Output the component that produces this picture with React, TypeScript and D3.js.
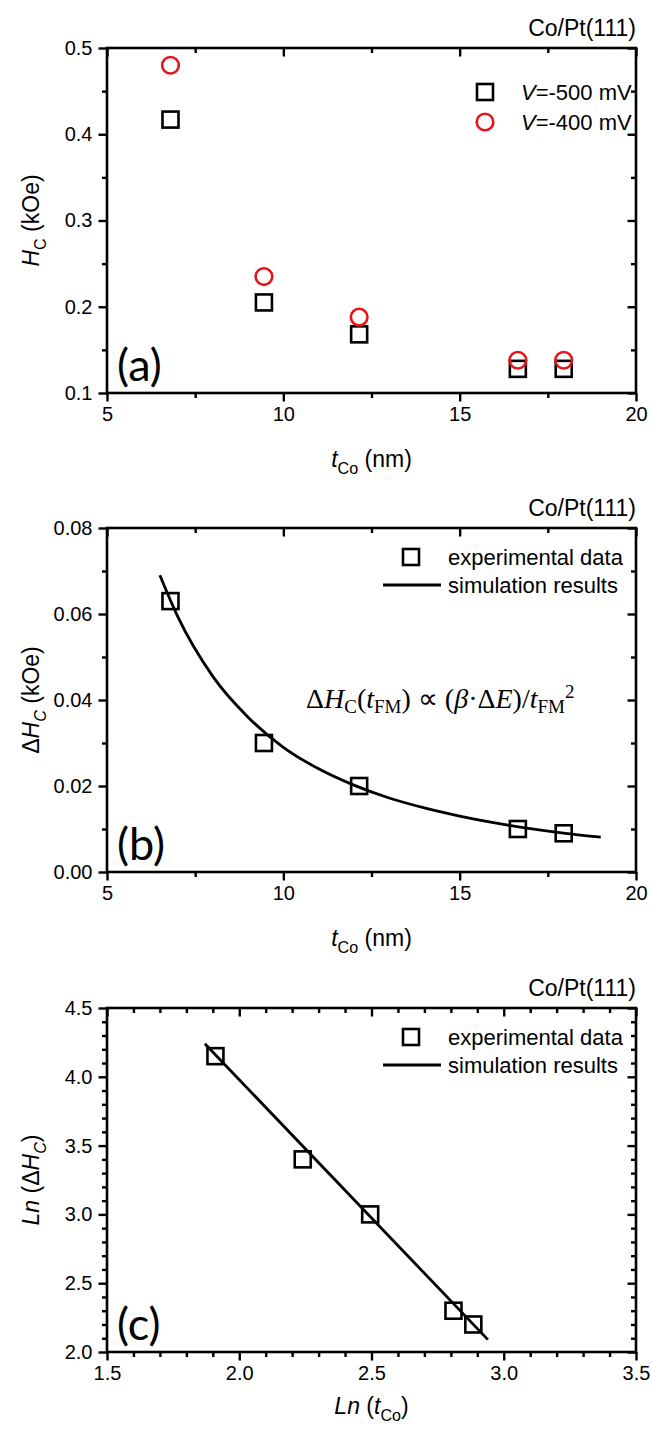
import { useEffect, useRef } from "react";
import * as d3 from "d3";

// panel (a): coercivity vs Co thickness
const tCo = [6.8, 9.45, 12.15, 16.65, 17.95];
const hc500 = [0.417, 0.205, 0.168, 0.128, 0.128];
const hc400 = [0.48, 0.235, 0.188, 0.138, 0.138];

// panel (b): difference, with simulation curve
const dHc = [0.063, 0.03, 0.02, 0.01, 0.009];
const simT = [6.5, 7, 8, 9, 10, 11, 12, 13, 14, 15, 16, 17, 18, 19];
const simDHc = [0.069, 0.0595, 0.0455, 0.036, 0.029, 0.024, 0.0202, 0.0172, 0.0149, 0.013, 0.0114, 0.0101, 0.009, 0.0081];

// panel (c): log-log
const lnT = [1.91, 2.24, 2.495, 2.81, 2.885];
const lnDHc = [4.15, 3.4, 3.0, 2.3, 2.2];
const fitLnT = [1.87, 2.94];
const fitLnDHc = [4.24, 2.09];

const xTicksA = [5, 10, 15, 20];
const yTicksA = [0.1, 0.2, 0.3, 0.4, 0.5];
const yTicksB = [0, 0.02, 0.04, 0.06, 0.08];
const xTicksC = [1.5, 2.0, 2.5, 3.0, 3.5];
const yTicksC = [2.0, 2.5, 3.0, 3.5, 4.0, 4.5];

const W = 652;
const H = 1433;
const LEFT = 107;
const RIGHT = 636;
const SANS = "'Liberation Sans', Arial, sans-serif";
const SERIF = "'Liberation Serif', 'Times New Roman', serif";
const RED = "#e8141b";
const TICK_FS = 20;
const TITLE_FS = 23;
const LEG_FS = 22;

type Part = { t: string; italic?: boolean; sub?: boolean; sup?: boolean };

// rich text with sub/superscripts as tspans
function addRich(sel: any, parts: Part[], size: number) {
  parts.forEach((p, i) => {
    const prev = i > 0 ? parts[i - 1] : null;
    const prevShift = prev ? (prev.sub ? 0.3 : prev.sup ? -0.4 : 0) : 0;
    const shift = p.sub ? 0.3 : p.sup ? -0.4 : 0;
    sel
      .append("tspan")
      .attr("dy", (shift - prevShift) * size)
      .attr("font-style", p.italic ? "italic" : "normal")
      .attr("font-size", p.sub || p.sup ? size * 0.7 : size)
      .text(p.t);
  });
}

function drawFrame(g: any, x: any, y: any, cfg: any) {
  const w = RIGHT - LEFT;
  const h = cfg.bottom - cfg.top;
  const major = 8.5;
  const minor = 5;
  const styleAxis = (a: any) => {
    a.select(".domain").remove();
    a.selectAll("line").attr("stroke", "#000").attr("stroke-width", 2.4);
    a.selectAll("text")
      .attr("font-family", SANS)
      .attr("font-size", TICK_FS)
      .attr("fill", "#000");
  };
  const blank = () => "";
  // bottom, outward
  g.append("g").attr("transform", `translate(0,${h})`)
    .call(d3.axisBottom(x).tickValues(cfg.xTicks).tickSize(major).tickPadding(5.5).tickFormat(cfg.xFmt))
    .call(styleAxis);
  g.append("g").attr("transform", `translate(0,${h})`)
    .call(d3.axisBottom(x).tickValues(cfg.xMinor).tickSize(minor).tickFormat(blank))
    .call(styleAxis);
  // top, inward
  g.append("g")
    .call(d3.axisBottom(x).tickValues(cfg.xTicks).tickSize(major).tickFormat(blank))
    .call(styleAxis);
  g.append("g")
    .call(d3.axisBottom(x).tickValues(cfg.xMinor).tickSize(minor).tickFormat(blank))
    .call(styleAxis);
  // left, outward
  g.append("g")
    .call(d3.axisLeft(y).tickValues(cfg.yTicks).tickSize(major).tickPadding(6).tickFormat(cfg.yFmt))
    .call(styleAxis);
  g.append("g")
    .call(d3.axisLeft(y).tickValues(cfg.yMinor).tickSize(minor).tickFormat(blank))
    .call(styleAxis);
  // right, inward
  g.append("g").attr("transform", `translate(${w},0)`)
    .call(d3.axisLeft(y).tickValues(cfg.yTicks).tickSize(major).tickFormat(blank))
    .call(styleAxis);
  g.append("g").attr("transform", `translate(${w},0)`)
    .call(d3.axisLeft(y).tickValues(cfg.yMinor).tickSize(minor).tickFormat(blank))
    .call(styleAxis);
  g.append("rect")
    .attr("width", w).attr("height", h)
    .attr("fill", "none").attr("stroke", "#000").attr("stroke-width", 2.6);

  // corner label
  g.append("text")
    .attr("x", w).attr("y", -12)
    .attr("text-anchor", "end")
    .attr("font-family", SANS).attr("font-size", 23)
    .text("Co/Pt(111)");
  // panel letter
  g.append("text")
    .attr("x", 10).attr("y", h - 12)
    .attr("font-family", "Lato, 'Open Sans', sans-serif").attr("font-size", 45)
    .text(cfg.letter);
  // x title
  const xt = g.append("text")
    .attr("x", w / 2).attr("y", h + cfg.xTitleDy)
    .attr("text-anchor", "middle")
    .attr("font-family", SANS).attr("font-size", TITLE_FS);
  addRich(xt, cfg.xTitle, TITLE_FS);
  // y title
  const yt = g.append("text")
    .attr("transform", `translate(${-68},${h / 2}) rotate(-90)`)
    .attr("text-anchor", "middle")
    .attr("font-family", SANS).attr("font-size", TITLE_FS);
  addRich(yt, cfg.yTitle, TITLE_FS);
}

function square(g: any, cx: number, cy: number) {
  g.append("rect")
    .attr("x", cx - 8).attr("y", cy - 8)
    .attr("width", 16).attr("height", 16)
    .attr("fill", "none").attr("stroke", "#000").attr("stroke-width", 2.6);
}

function circle(g: any, cx: number, cy: number) {
  g.append("circle")
    .attr("cx", cx).attr("cy", cy).attr("r", 8.3)
    .attr("fill", "none").attr("stroke", RED).attr("stroke-width", 2.6);
}

function legendText(g: any, x: number, y: number, parts: Part[]) {
  const t = g.append("text")
    .attr("x", x).attr("y", y + 8)
    .attr("font-family", SANS).attr("font-size", LEG_FS);
  addRich(t, parts, LEG_FS);
}

const App = () => {
  const svgRef = useRef<SVGSVGElement>(null);

  useEffect(() => {
    const svg = d3.select(svgRef.current);
    svg.selectAll("*").remove();
    const w = RIGHT - LEFT;

    const xTitleT: Part[] = [{ t: "t", italic: true }, { t: "Co", sub: true }, { t: " (nm)" }];
    const minorX = [7.5, 12.5, 17.5];

    // ---- (a)
    {
      const top = 48, bottom = 393;
      const g = svg.append("g").attr("transform", `translate(${LEFT},${top})`);
      const x = d3.scaleLinear().domain([5, 20]).range([0, w]);
      const y = d3.scaleLinear().domain([0.1, 0.5]).range([bottom - top, 0]);
      drawFrame(g, x, y, {
        top, bottom, letter: "(a)", xTicks: xTicksA, xMinor: minorX,
        yTicks: yTicksA, yMinor: [0.15, 0.25, 0.35, 0.45],
        xFmt: d3.format("d"), yFmt: d3.format(".1f"), xTitleDy: 74,
        xTitle: xTitleT,
        yTitle: [{ t: "H", italic: true }, { t: "C", sub: true }, { t: " (kOe)" }],
      });
      tCo.forEach((t, i) => square(g, x(t), y(hc500[i])));
      tCo.forEach((t, i) => circle(g, x(t), y(hc400[i])));
      square(g, 378, 44);
      circle(g, 378, 74);
      legendText(g, 414, 44, [{ t: "V", italic: true }, { t: "=-500 mV" }]);
      legendText(g, 414, 74, [{ t: "V", italic: true }, { t: "=-400 mV" }]);
    }

    // ---- (b)
    {
      const top = 528, bottom = 872;
      const g = svg.append("g").attr("transform", `translate(${LEFT},${top})`);
      const x = d3.scaleLinear().domain([5, 20]).range([0, w]);
      const y = d3.scaleLinear().domain([0, 0.08]).range([bottom - top, 0]);
      drawFrame(g, x, y, {
        top, bottom, letter: "(b)", xTicks: xTicksA, xMinor: minorX,
        yTicks: yTicksB, yMinor: [0.01, 0.03, 0.05, 0.07],
        xFmt: d3.format("d"), yFmt: d3.format(".2f"), xTitleDy: 74,
        xTitle: xTitleT,
        yTitle: [{ t: "Δ" }, { t: "H", italic: true }, { t: "C", sub: true, italic: true }, { t: " (kOe)" }],
      });
      const line = d3.line<number>()
        .x((d) => x(d))
        .y((_, i) => y(simDHc[i]))
        .curve(d3.curveMonotoneX);
      g.append("path").datum(simT).attr("d", line)
        .attr("fill", "none").attr("stroke", "#000").attr("stroke-width", 2.8);
      tCo.forEach((t, i) => square(g, x(t), y(dHc[i])));
      square(g, 304, 29);
      g.append("line").attr("x1", 276).attr("x2", 334).attr("y1", 57).attr("y2", 57)
        .attr("stroke", "#000").attr("stroke-width", 2.8);
      legendText(g, 341, 29, [{ t: "experimental data" }]);
      legendText(g, 341, 57, [{ t: "simulation results" }]);
      // formula
      const f = g.append("text")
        .attr("x", 199).attr("y", 180)
        .attr("font-family", SERIF).attr("font-size", 28);
      f.append("tspan").text("Δ");
      f.append("tspan").attr("font-style", "italic").text("H");
      f.append("tspan").attr("font-size", 19).attr("dy", 5).text("C");
      f.append("tspan").attr("dy", -5).text("(");
      f.append("tspan").attr("font-style", "italic").text("t");
      f.append("tspan").attr("font-size", 19).attr("dy", 5).text("FM");
      f.append("tspan").attr("dy", -5).text(") ∝ (");
      f.append("tspan").attr("font-style", "italic").text("β");
      f.append("tspan").text("·Δ");
      f.append("tspan").attr("font-style", "italic").text("E");
      f.append("tspan").text(")/");
      f.append("tspan").attr("font-style", "italic").text("t");
      f.append("tspan").attr("font-size", 19).attr("dy", 5).text("FM");
      f.append("tspan").attr("font-size", 19).attr("dy", -15).text("2");
    }

    // ---- (c)
    {
      const top = 1008, bottom = 1352;
      const g = svg.append("g").attr("transform", `translate(${LEFT},${top})`);
      const x = d3.scaleLinear().domain([1.5, 3.5]).range([0, w]);
      const y = d3.scaleLinear().domain([2.0, 4.5]).range([bottom - top, 0]);
      const xMinor = d3.range(1.6, 3.45, 0.1).filter((v) => Math.abs(v * 2 - Math.round(v * 2)) > 0.01);
      const yMinor = d3.range(2.1, 4.45, 0.1).filter((v) => Math.abs(v * 2 - Math.round(v * 2)) > 0.01);
      drawFrame(g, x, y, {
        top, bottom, letter: "(c)", xTicks: xTicksC, xMinor,
        yTicks: yTicksC, yMinor,
        xFmt: d3.format(".1f"), yFmt: d3.format(".1f"), xTitleDy: 62,
        xTitle: [{ t: "Ln", italic: true }, { t: " (" }, { t: "t", italic: true }, { t: "Co", sub: true }, { t: ")" }],
        yTitle: [{ t: "Ln", italic: true }, { t: " (Δ" }, { t: "H", italic: true }, { t: "C", sub: true, italic: true }, { t: ")" }],
      });
      const line = d3.line<number>().x((d) => x(d)).y((_, i) => y(fitLnDHc[i]));
      g.append("path").datum(fitLnT).attr("d", line)
        .attr("fill", "none").attr("stroke", "#000").attr("stroke-width", 2.8);
      lnT.forEach((t, i) => square(g, x(t), y(lnDHc[i])));
      square(g, 304, 29);
      g.append("line").attr("x1", 276).attr("x2", 334).attr("y1", 57).attr("y2", 57)
        .attr("stroke", "#000").attr("stroke-width", 2.8);
      legendText(g, 341, 29, [{ t: "experimental data" }]);
      legendText(g, 341, 57, [{ t: "simulation results" }]);
    }
  }, []);

  return (
    <svg
      ref={svgRef}
      width={W}
      height={H}
      style={{ position: "absolute", left: 0, top: 0, background: "#fff" }}
    />
  );
};

export default App;
